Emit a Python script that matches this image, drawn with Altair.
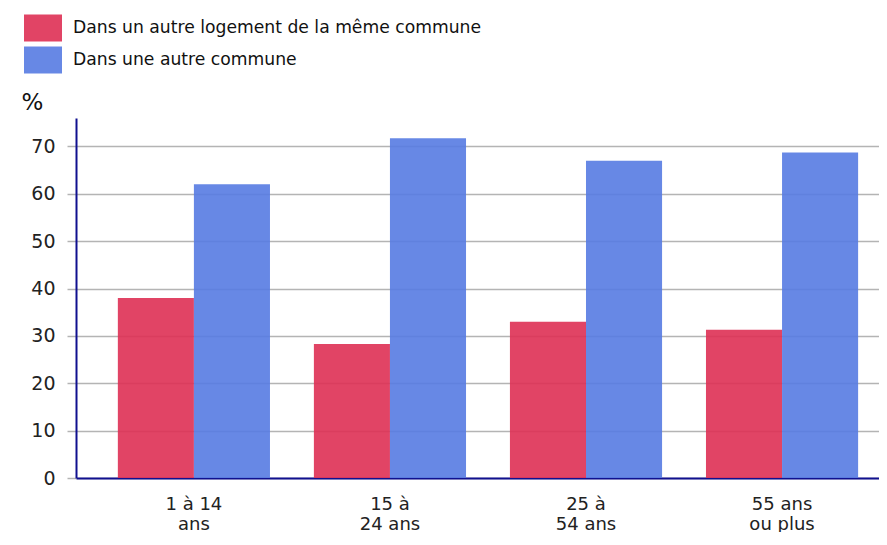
import altair as alt
import pandas as pd

categories = ["1 à 14\nans", "15 à\n24 ans", "25 à\n54 ans", "55 ans\nou plus"]
series_names = ["Dans un autre logement de la même commune", "Dans une autre commune"]
same_commune = [38.0, 28.3, 33.0, 31.3]
other_commune = [62.0, 71.7, 67.0, 68.7]
y_ticks = [0, 10, 20, 30, 40, 50, 60, 70]
colors = ["#DE3054", "#577BE2"]

rows = []
for c, a, b in zip(categories, same_commune, other_commune):
    rows.append({"cat": c, "serie": series_names[0], "val": a})
    rows.append({"cat": c, "serie": series_names[1], "val": b})
df = pd.DataFrame(rows)

FONT = "DejaVu Sans"

chart = alt.Chart(df).mark_bar(opacity=0.9).encode(
    x=alt.X("cat:N", sort=categories, title=None,
            scale=alt.Scale(paddingInner=0.224, paddingOuter=0.16, align=0.667),
            axis=alt.Axis(labelAngle=0, labelExpr="split(datum.label, '\\n')",
                          labelFontSize=18, labelLineHeight=20, labelColor="#222222",
                          labelFont=FONT, labelPadding=17, ticks=False,
                          domainColor="#10108f", domainWidth=2, grid=False)),
    xOffset=alt.XOffset("serie:N", sort=series_names,
                        scale=alt.Scale(paddingInner=0, paddingOuter=0)),
    y=alt.Y("val:Q", scale=alt.Scale(domain=[0, 76], nice=False),
            axis=alt.Axis(values=y_ticks, title="%", titleAngle=0, titleX=-55, titleY=-9,
                          titleAlign="left", titleBaseline="alphabetic", titleFontSize=23,
                          titleFontWeight="normal", titleFont=FONT, titleColor="#111111",
                          labelFontSize=19, labelFont=FONT, labelColor="#222222",
                          labelPadding=12, tickSize=9, tickColor="#b4b4b4", tickWidth=1.5,
                          gridColor="#b4b4b4", gridWidth=1.5,
                          domainColor="#10108f", domainWidth=2)),
    color=alt.Color("serie:N", sort=series_names,
                    scale=alt.Scale(domain=series_names, range=colors),
                    legend=alt.Legend(title=None, orient="none", legendX=-43, legendY=-100,
                                      direction="vertical", padding=0,
                                      symbolType="M-1.9,-1.35H1.9V1.35H-1.9Z",
                                      symbolSize=400, symbolOpacity=0.9, symbolStrokeWidth=0,
                                      labelFontSize=17.2, labelFont=FONT, labelColor="#111111",
                                      labelOffset=20, rowPadding=4, labelLimit=600)),
).properties(
    width=803, height=360,
    autosize=alt.AutoSizeParams(type="none"),
    padding={"left": 68, "top": 110, "right": 0, "bottom": 54},
).configure_view(stroke=None)

chart.save("out.html", embed_options={"renderer": "svg", "actions": False})
